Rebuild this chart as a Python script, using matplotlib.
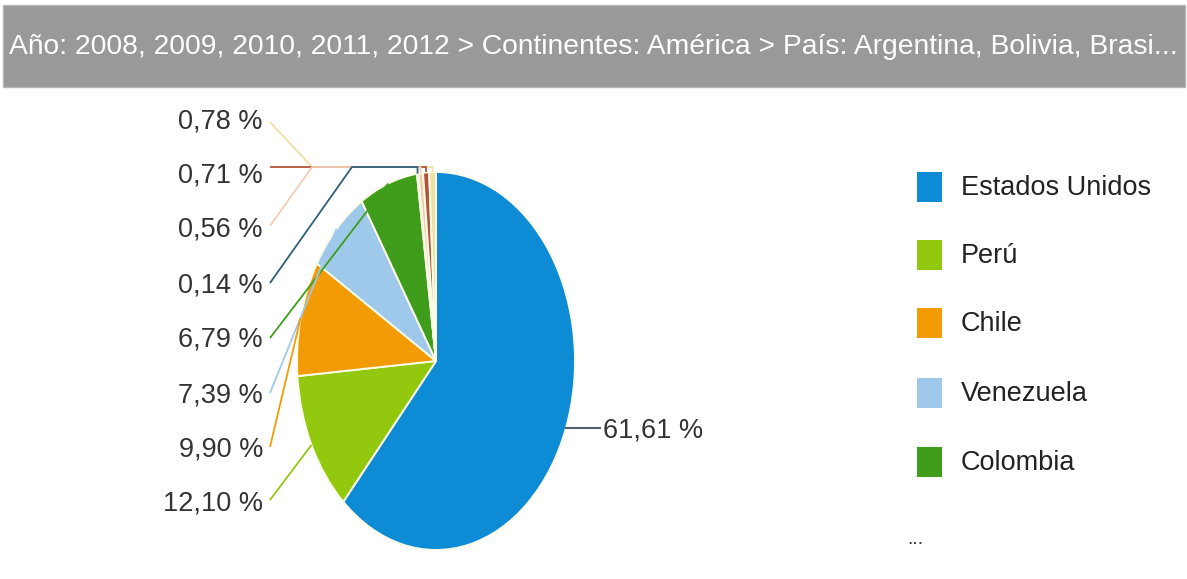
import matplotlib
matplotlib.use("Agg")
import matplotlib.pyplot as plt
from matplotlib.font_manager import FontProperties, findfont
from matplotlib.patches import Rectangle
import numpy as np

# ---- data -------------------------------------------------------------
title = "Año: 2008, 2009, 2010, 2011, 2012 > Continentes: América > País: Argentina, Bolivia, Brasi..."
legend_names = ["Estados Unidos", "Perú", "Chile", "Venezuela", "Colombia"]
main_values = [61.61, 12.10, 9.90, 7.39, 6.79]
other_values = [0.14, 0.56, 0.71, 0.78]
main_colors = ["#0d8bd4", "#92c90e", "#f39b05", "#9fc9ea", "#3f9d1b"]
other_colors = ["#2f5f7a", "#f2cdb4", "#b0553a", "#eee2a2"]

values = main_values + other_values
colors = main_colors + other_colors


def fmt(v):
    return f"{v:.2f}".replace(".", ",") + " %"


def pick_font(cands, default):
    for f in cands:
        try:
            findfont(FontProperties(family=f), fallback_to_default=False)
            return f
        except Exception:
            continue
    return default


narrow = pick_font(["Liberation Sans Narrow", "DejaVu Sans Condensed"], "Liberation Sans")
regular = pick_font(["Liberation Sans", "Arial"], "DejaVu Sans")

W, H = 1187, 579
fig = plt.figure(figsize=(W / 100, H / 100), dpi=100)
fig.patch.set_facecolor("white")

# pie axes: an elliptical pie centred at (cx, cy) with radii rx, ry in pixels
cx, cy, rx, ry = 436, 361, 139, 189
axp = fig.add_axes([0, 0, 1, 1])
wedges, _ = axp.pie(values, colors=colors, startangle=90, counterclock=False,
                    radius=1.0, center=(0, 0),
                    wedgeprops=dict(edgecolor="#fbfbe6", linewidth=1.4))
axp.set_aspect("auto")
axp.set_xlim(-cx / rx, (W - cx) / rx)
axp.set_ylim(-(H - cy) / ry, cy / ry)
axp.axis("off")

# pixel-space overlay for header, legend, labels and leader lines
ax = fig.add_axes([0, 0, 1, 1])
ax.set_xlim(0, W)
ax.set_ylim(H, 0)
ax.axis("off")
ax.set_zorder(3)


def to_px(x, y):
    return cx + rx * x, cy - ry * y


def anchor(w):
    a = np.deg2rad((w.theta1 + w.theta2) / 2)
    return to_px(np.cos(a), np.sin(a))


# header bar
ax.add_patch(Rectangle((3, 5), 1182, 82, facecolor="#999999", edgecolor="#b5b5b5", lw=1, zorder=1))
t = ax.text(9, 47, title, color="white", fontsize=20, family=[narrow, "DejaVu Sans"],
            va="center", ha="left", zorder=2)
fig.canvas.draw()
bw = t.get_window_extent().width
t.set_fontsize(20 * 1166 / bw)

# labels on the left, ordered from the top counter-clockwise
n = len(values)
left_order = list(range(n - 1, 0, -1))  # 0.78, 0.71, 0.56, 0.14, 6.79, 7.39, 9.90, 12.10
label_y = [122, 175, 229, 286, 340, 395, 450, 503]
line_y = [122, 167, 226, 283, 338, 393, 447, 500]
top_y = 167
elbow_x = {n - 1: 312, n - 2: 270, n - 3: 312, n - 4: 352}

for idx, ly, lly in zip(left_order, label_y, line_y):
    ax.text(263, ly, fmt(values[idx]), ha="right", va="center", fontsize=19.5,
            family=regular, color="#333333", zorder=5)
    axx, ayy = anchor(wedges[idx])
    if idx in elbow_x:
        ex = elbow_x[idx]
        xs = [270, ex, axx, axx]
        ys = [lly, top_y, top_y, ayy]
    else:
        xs = [270, axx]
        ys = [lly, ayy]
    ax.plot(xs, ys, color=colors[idx], lw=1.3, zorder=4, solid_capstyle="butt")

# label for the largest slice
axx, ayy = anchor(wedges[0])
ax.plot([axx, 600], [ayy, ayy], color="#555f66", lw=1.5, zorder=4)
ax.text(603, ayy + 2, fmt(values[0]), ha="left", va="center", fontsize=19.5,
        family=regular, color="#333333", zorder=5)

# legend
leg_y = [187, 255, 323, 393, 462]
for name, col, yy in zip(legend_names, main_colors, leg_y):
    ax.add_patch(Rectangle((917, yy - 15), 25, 30, facecolor=col, edgecolor="none"))
    ax.text(961, yy + 1, name, ha="left", va="center", fontsize=19.5,
            family=[narrow, "DejaVu Sans"], color="#222222")
ax.text(907, 540, "...", ha="left", va="center", fontsize=14, family=regular, color="#333333")

fig.savefig("out.png", dpi=100, facecolor="white")
